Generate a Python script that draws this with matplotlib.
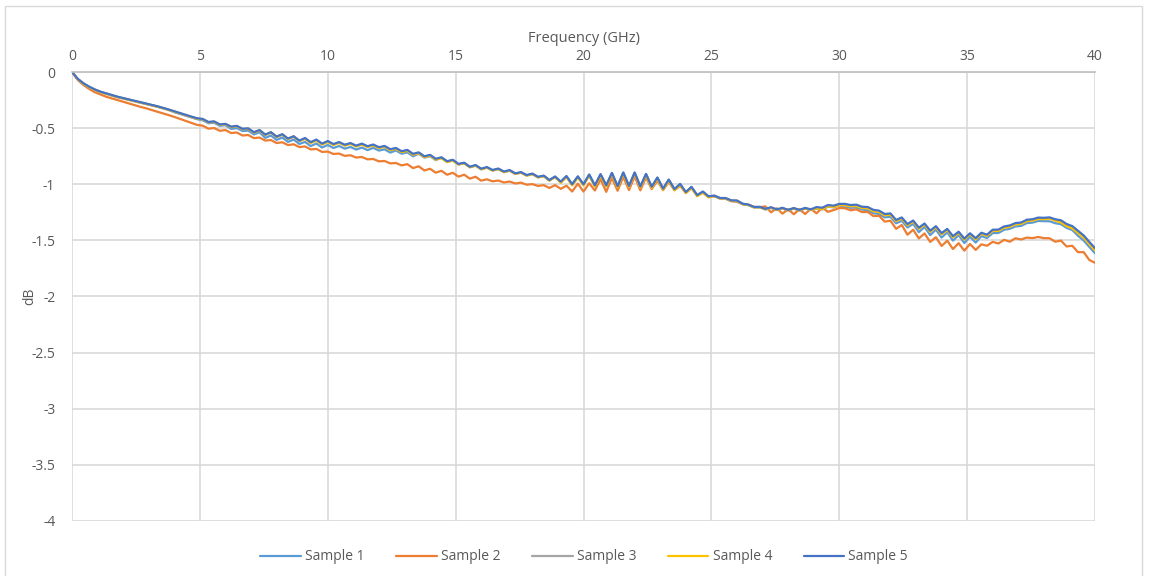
import numpy as np
import matplotlib
matplotlib.use("Agg")
import matplotlib.pyplot as plt
from matplotlib.patches import Rectangle
from matplotlib.ticker import FuncFormatter

# frequency grid of the sweep (GHz), 181 points from 0 to 40
freq = np.linspace(0, 40, 181)

sample1 = [
    0, -0.062, -0.102, -0.132, -0.157, -0.177, -0.192, -0.207, -0.222, -0.234,
    -0.246, -0.259, -0.27, -0.282, -0.294, -0.307, -0.321, -0.336, -0.358, -0.373,
    -0.389, -0.405, -0.42, -0.43, -0.457, -0.452, -0.479, -0.474, -0.507, -0.5,
    -0.526, -0.522, -0.556, -0.537, -0.587, -0.566, -0.605, -0.584, -0.623, -0.602,
    -0.641, -0.623, -0.66, -0.637, -0.673, -0.65, -0.677, -0.659, -0.683, -0.668,
    -0.691, -0.673, -0.696, -0.676, -0.7, -0.689, -0.718, -0.699, -0.728, -0.716,
    -0.751, -0.728, -0.763, -0.75, -0.785, -0.763, -0.798, -0.785, -0.822, -0.811,
    -0.847, -0.832, -0.865, -0.85, -0.876, -0.863, -0.89, -0.877, -0.906, -0.895,
    -0.921, -0.908, -0.937, -0.926, -0.965, -0.934, -0.98, -0.93, -1.003, -0.933,
    -1.003, -0.916, -1.013, -0.913, -1.013, -0.902, -1.02, -0.898, -1.018, -0.898,
    -1.023, -0.911, -1.025, -0.943, -1.042, -0.961, -1.046, -1.0, -1.073, -1.026,
    -1.1, -1.068, -1.111, -1.104, -1.125, -1.126, -1.147, -1.148, -1.176, -1.184,
    -1.205, -1.204, -1.224, -1.21, -1.229, -1.215, -1.233, -1.217, -1.233, -1.216,
    -1.229, -1.218, -1.225, -1.2, -1.206, -1.19, -1.2, -1.21, -1.207, -1.225,
    -1.233, -1.258, -1.265, -1.295, -1.29, -1.348, -1.326, -1.385, -1.353, -1.427,
    -1.38, -1.453, -1.404, -1.475, -1.428, -1.502, -1.453, -1.524, -1.467, -1.52,
    -1.462, -1.479, -1.435, -1.434, -1.406, -1.397, -1.376, -1.371, -1.346, -1.342,
    -1.327, -1.329, -1.33, -1.347, -1.356, -1.389, -1.408, -1.459, -1.501, -1.559, -1.615,
]

sample2 = [
    0, -0.07, -0.115, -0.15, -0.18, -0.2, -0.22, -0.235, -0.25, -0.265,
    -0.281, -0.296, -0.31, -0.323, -0.338, -0.353, -0.369, -0.384, -0.4, -0.418,
    -0.436, -0.453, -0.471, -0.478, -0.505, -0.499, -0.524, -0.517, -0.544, -0.539,
    -0.566, -0.561, -0.589, -0.584, -0.611, -0.606, -0.633, -0.626, -0.651, -0.644,
    -0.669, -0.663, -0.69, -0.685, -0.712, -0.709, -0.73, -0.727, -0.747, -0.742,
    -0.762, -0.757, -0.778, -0.775, -0.796, -0.793, -0.814, -0.811, -0.832, -0.821,
    -0.856, -0.84, -0.877, -0.862, -0.897, -0.88, -0.915, -0.898, -0.932, -0.915,
    -0.95, -0.933, -0.968, -0.956, -0.974, -0.967, -0.984, -0.976, -0.993, -0.986,
    -1.004, -0.999, -1.015, -1.008, -1.033, -1.008, -1.041, -1.013, -1.065, -0.995,
    -1.065, -0.991, -1.056, -0.955, -1.068, -0.943, -1.058, -0.934, -1.052, -0.93,
    -1.054, -0.939, -1.043, -0.968, -1.053, -0.98, -1.053, -1.014, -1.075, -1.036,
    -1.097, -1.075, -1.108, -1.106, -1.126, -1.129, -1.151, -1.156, -1.177, -1.183,
    -1.202, -1.205, -1.197, -1.25, -1.214, -1.262, -1.223, -1.267, -1.223, -1.265,
    -1.219, -1.259, -1.208, -1.246, -1.23, -1.212, -1.214, -1.232, -1.224, -1.248,
    -1.247, -1.283, -1.281, -1.333, -1.325, -1.397, -1.363, -1.45, -1.405, -1.483,
    -1.438, -1.514, -1.472, -1.55, -1.503, -1.577, -1.525, -1.592, -1.532, -1.585,
    -1.535, -1.548, -1.513, -1.528, -1.495, -1.512, -1.481, -1.492, -1.475, -1.48,
    -1.47, -1.48, -1.481, -1.512, -1.502, -1.554, -1.548, -1.605, -1.605, -1.675, -1.70,
]

sample3 = [
    0, -0.065, -0.105, -0.135, -0.16, -0.18, -0.195, -0.21, -0.225, -0.237,
    -0.249, -0.262, -0.273, -0.285, -0.297, -0.31, -0.324, -0.339, -0.355, -0.37,
    -0.386, -0.402, -0.417, -0.423, -0.45, -0.445, -0.472, -0.467, -0.492, -0.485,
    -0.511, -0.507, -0.541, -0.522, -0.562, -0.541, -0.58, -0.559, -0.598, -0.577,
    -0.616, -0.593, -0.63, -0.607, -0.643, -0.62, -0.647, -0.629, -0.653, -0.638,
    -0.661, -0.643, -0.666, -0.651, -0.675, -0.664, -0.693, -0.682, -0.711, -0.699,
    -0.734, -0.721, -0.756, -0.743, -0.778, -0.765, -0.8, -0.787, -0.824, -0.813,
    -0.849, -0.834, -0.867, -0.852, -0.878, -0.865, -0.892, -0.879, -0.908, -0.897,
    -0.923, -0.91, -0.939, -0.928, -0.967, -0.936, -0.982, -0.932, -1.005, -0.935,
    -1.005, -0.918, -1.015, -0.915, -1.015, -0.904, -1.022, -0.9, -1.02, -0.9,
    -1.025, -0.913, -1.027, -0.945, -1.044, -0.963, -1.048, -1.002, -1.075, -1.028,
    -1.102, -1.07, -1.113, -1.106, -1.127, -1.128, -1.149, -1.15, -1.178, -1.186,
    -1.207, -1.206, -1.224, -1.21, -1.229, -1.215, -1.233, -1.217, -1.233, -1.216,
    -1.229, -1.211, -1.218, -1.193, -1.199, -1.183, -1.183, -1.193, -1.19, -1.208,
    -1.211, -1.236, -1.243, -1.273, -1.268, -1.326, -1.304, -1.363, -1.331, -1.395,
    -1.358, -1.421, -1.382, -1.443, -1.406, -1.47, -1.431, -1.492, -1.445, -1.488,
    -1.44, -1.457, -1.413, -1.412, -1.384, -1.375, -1.354, -1.349, -1.324, -1.32,
    -1.305, -1.307, -1.303, -1.32, -1.329, -1.362, -1.381, -1.422, -1.464, -1.522, -1.578,
]

sample4 = [
    0, -0.063, -0.103, -0.133, -0.158, -0.178, -0.193, -0.208, -0.223, -0.235,
    -0.247, -0.26, -0.271, -0.283, -0.295, -0.308, -0.322, -0.337, -0.353, -0.368,
    -0.384, -0.4, -0.415, -0.421, -0.448, -0.443, -0.47, -0.465, -0.49, -0.483,
    -0.509, -0.505, -0.539, -0.52, -0.56, -0.539, -0.578, -0.557, -0.596, -0.575,
    -0.614, -0.596, -0.633, -0.61, -0.646, -0.623, -0.65, -0.632, -0.656, -0.641,
    -0.664, -0.646, -0.669, -0.654, -0.678, -0.667, -0.696, -0.685, -0.714, -0.702,
    -0.737, -0.724, -0.759, -0.746, -0.781, -0.768, -0.803, -0.79, -0.824, -0.813,
    -0.849, -0.834, -0.867, -0.852, -0.878, -0.865, -0.892, -0.879, -0.908, -0.897,
    -0.923, -0.91, -0.939, -0.928, -0.967, -0.936, -0.987, -0.937, -1.01, -0.94,
    -1.01, -0.923, -1.02, -0.92, -1.02, -0.909, -1.027, -0.905, -1.025, -0.905,
    -1.03, -0.918, -1.032, -0.95, -1.049, -0.968, -1.053, -1.007, -1.08, -1.033,
    -1.107, -1.075, -1.118, -1.104, -1.125, -1.126, -1.147, -1.148, -1.176, -1.184,
    -1.205, -1.204, -1.222, -1.208, -1.227, -1.213, -1.231, -1.215, -1.231, -1.214,
    -1.227, -1.215, -1.222, -1.197, -1.203, -1.187, -1.187, -1.197, -1.194, -1.212,
    -1.215, -1.24, -1.247, -1.277, -1.272, -1.328, -1.306, -1.365, -1.333, -1.397,
    -1.36, -1.423, -1.384, -1.445, -1.408, -1.472, -1.433, -1.494, -1.447, -1.49,
    -1.442, -1.459, -1.415, -1.416, -1.388, -1.379, -1.358, -1.353, -1.328, -1.324,
    -1.309, -1.311, -1.307, -1.324, -1.341, -1.374, -1.393, -1.434, -1.476, -1.534, -1.59,
]

sample5 = [
    0, -0.06, -0.10, -0.13, -0.155, -0.175, -0.19, -0.205, -0.22, -0.232,
    -0.244, -0.257, -0.268, -0.28, -0.292, -0.305, -0.319, -0.334, -0.35, -0.365,
    -0.381, -0.397, -0.412, -0.418, -0.445, -0.44, -0.467, -0.462, -0.487, -0.48,
    -0.506, -0.502, -0.536, -0.517, -0.557, -0.536, -0.575, -0.554, -0.593, -0.572,
    -0.611, -0.588, -0.625, -0.602, -0.638, -0.615, -0.642, -0.624, -0.648, -0.633,
    -0.656, -0.638, -0.661, -0.646, -0.67, -0.659, -0.688, -0.677, -0.706, -0.694,
    -0.729, -0.716, -0.751, -0.738, -0.773, -0.76, -0.795, -0.782, -0.819, -0.808,
    -0.844, -0.829, -0.862, -0.847, -0.873, -0.86, -0.887, -0.874, -0.903, -0.892,
    -0.918, -0.905, -0.934, -0.923, -0.962, -0.931, -0.977, -0.927, -1.0, -0.93,
    -1.0, -0.913, -1.01, -0.91, -1.01, -0.899, -1.017, -0.895, -1.015, -0.895,
    -1.02, -0.908, -1.022, -0.94, -1.039, -0.958, -1.043, -0.997, -1.07, -1.023,
    -1.097, -1.065, -1.108, -1.101, -1.122, -1.123, -1.144, -1.145, -1.173, -1.181,
    -1.202, -1.201, -1.219, -1.205, -1.224, -1.21, -1.228, -1.212, -1.228, -1.211,
    -1.224, -1.203, -1.21, -1.185, -1.191, -1.175, -1.175, -1.185, -1.182, -1.2,
    -1.203, -1.228, -1.235, -1.265, -1.26, -1.318, -1.296, -1.355, -1.323, -1.387,
    -1.35, -1.413, -1.374, -1.435, -1.398, -1.462, -1.423, -1.484, -1.437, -1.48,
    -1.432, -1.449, -1.405, -1.404, -1.376, -1.367, -1.346, -1.341, -1.316, -1.312,
    -1.297, -1.299, -1.295, -1.312, -1.321, -1.354, -1.373, -1.414, -1.456, -1.514, -1.57,
]

labels = ["Sample 1", "Sample 2", "Sample 3", "Sample 4", "Sample 5"]
colors = ["#5B9BD5", "#ED7D31", "#A5A5A5", "#FFC000", "#4472C4"]
x_ticks = [0, 5, 10, 15, 20, 25, 30, 35, 40]
y_ticks = [0, -0.5, -1, -1.5, -2, -2.5, -3, -3.5, -4]

plt.rcParams['font.family'] = ['Open Sans', 'DejaVu Sans']
txt = '#595959'

fig = plt.figure(figsize=(11.5, 5.76), dpi=100)
ax = fig.add_axes([0.0626, 0.0955, 0.8896, 0.7795])

for ys, lab, c in zip([sample1, sample2, sample3, sample4, sample5], labels, colors):
    ax.plot(freq, ys, color=c, lw=1.6, label=lab,
            solid_joinstyle='round', solid_capstyle='round')

ax.set_xlim(0, 40)
ax.set_ylim(-4, 0)
ax.set_xticks(x_ticks)
ax.set_yticks(y_ticks)
ax.yaxis.set_major_formatter(FuncFormatter(lambda v, p: f"{v:g}"))
ax.xaxis.tick_top()
ax.xaxis.set_label_position('top')
ax.tick_params(length=0, labelsize=10, colors=txt)
ax.tick_params(axis='x', pad=6)
ax.tick_params(axis='y', pad=12)
ax.grid(True, color='#d9d9d9', lw=1.2)
ax.set_axisbelow(True)
for s in ['bottom', 'left', 'right']:
    ax.spines[s].set_visible(False)
ax.spines['top'].set_color('#bfbfbf')
ax.spines['top'].set_linewidth(1.2)

ax.set_xlabel("Frequency (GHz)", fontsize=10.5, color=txt, labelpad=5)
ax.set_ylabel("dB", fontsize=10, color=txt)
ax.yaxis.set_label_coords(-0.034, 0.5)

fig.legend(loc='center', bbox_to_anchor=(0.508, 0.033), ncol=5, frameon=False,
           fontsize=10, handlelength=2.9, handletextpad=0.3, columnspacing=2.3,
           labelcolor=txt)

# light outer chart border
fig.patches.append(Rectangle((0.004, -0.01), 0.989, 1.0, transform=fig.transFigure,
                             fill=False, edgecolor='#d9d9d9', lw=1.0))

fig.savefig("out.png", dpi=100)
